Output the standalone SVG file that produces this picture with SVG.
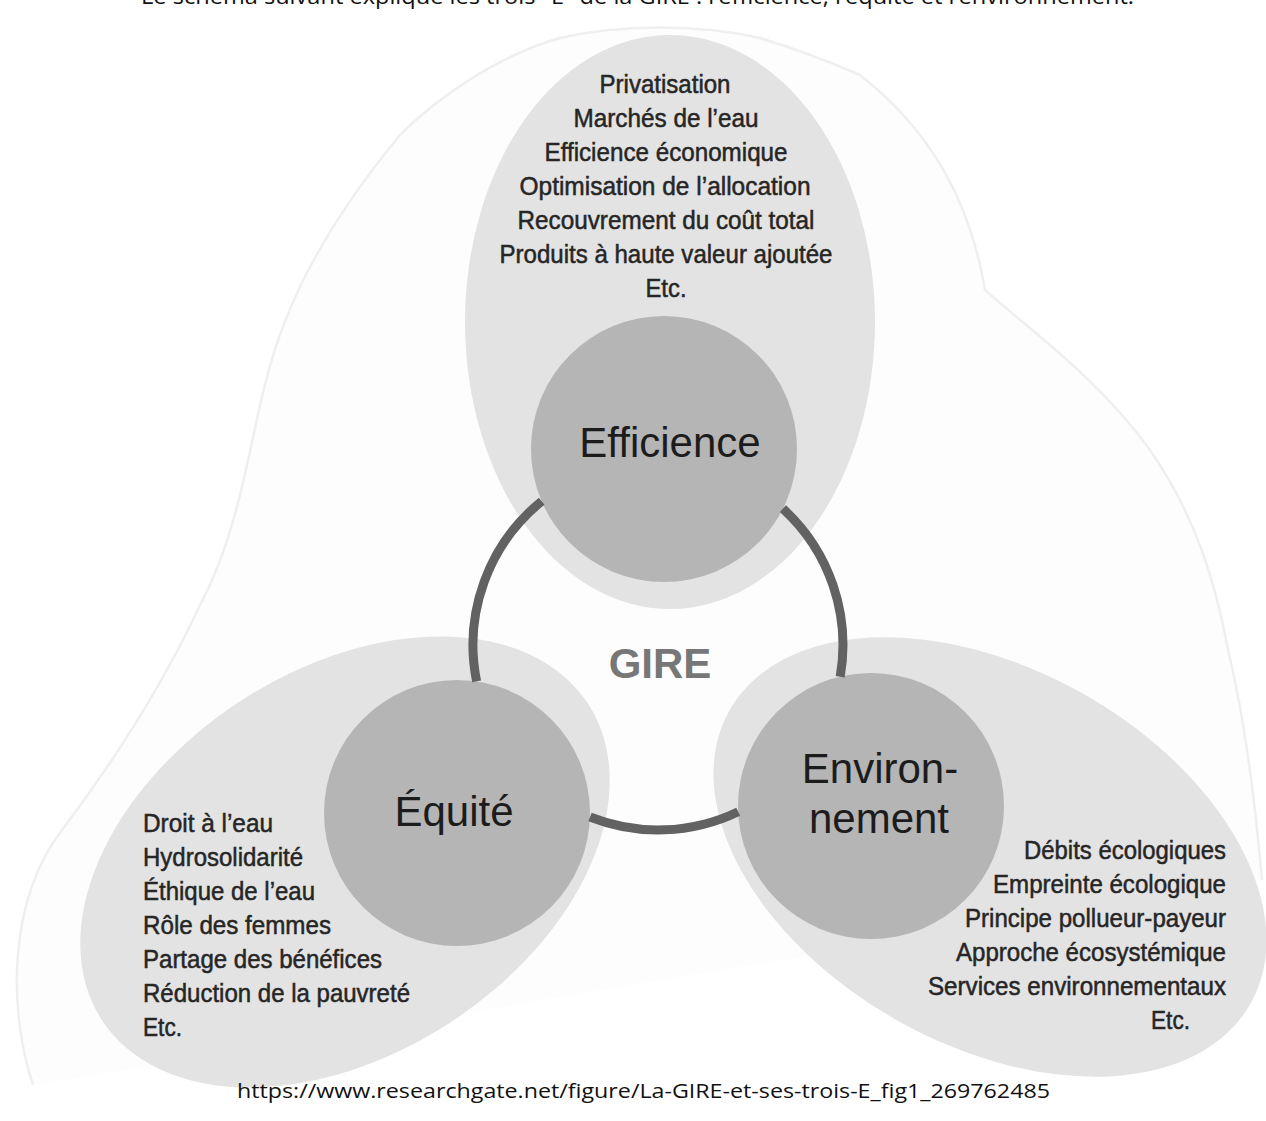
<svg xmlns="http://www.w3.org/2000/svg" width="1266" height="1121" viewBox="0 0 1266 1121">
<style>
.bg{fill:#ffffff}
.blob{fill:#fdfdfd;stroke:#efefef;stroke-width:2.5}
.halo{fill:#e3e3e3}
.core{fill:#b5b5b5}
.ring{fill:none;stroke:#626262;stroke-width:9;stroke-linecap:butt}
.lbl{font-family:'Liberation Sans',Arial,sans-serif;font-size:42px;fill:#1c1c1c;text-anchor:middle}
.gire{font-family:'Liberation Sans',Arial,sans-serif;font-size:42px;font-weight:bold;fill:#777777;text-anchor:middle}
.lst{font-family:'Liberation Sans Narrow','Liberation Sans',Arial,sans-serif;font-size:25px;fill:#262626;stroke:#262626;stroke-width:0.5}
.mid{text-anchor:middle}
.end{text-anchor:end}
.cap{font-family:'Open Sans','Liberation Sans',Arial,sans-serif;fill:#111111}
</style>
<rect class="bg" x="0" y="0" width="1266" height="1121"/>
<text class="cap" x="141" y="4" font-size="21" textLength="993" lengthAdjust="spacingAndGlyphs">Le schéma suivant explique les trois "E" de la GIRE : l’efficience, l’équité et l’environnement.</text>
<path class="blob" d="M 33,1085 C 8,1010 8,900 62,830 C 115,760 165,680 200,605 C 240,530 250,440 265,385 C 285,300 330,220 400,135 C 440,95 500,55 560,38 C 620,24 700,24 760,38 C 800,50 830,62 860,75 C 930,130 970,200 985,290 C 1030,330 1100,380 1150,450 C 1195,515 1215,580 1228,650 C 1245,720 1255,800 1262,880"/>
<g id="node-efficience">
<ellipse class="halo" cx="670" cy="322" rx="205" ry="287"/>
<circle class="core" cx="664" cy="449" r="133"/>
<text class="lbl" x="670" y="457">Efficience</text>
<text class="lst mid" x="665" y="93" textLength="131" lengthAdjust="spacingAndGlyphs">Privatisation</text>
<text class="lst mid" x="666" y="127" textLength="185" lengthAdjust="spacingAndGlyphs">Marchés de l’eau</text>
<text class="lst mid" x="666" y="161" textLength="243" lengthAdjust="spacingAndGlyphs">Efficience économique</text>
<text class="lst mid" x="665" y="195" textLength="291" lengthAdjust="spacingAndGlyphs">Optimisation de l’allocation</text>
<text class="lst mid" x="666" y="229" textLength="297" lengthAdjust="spacingAndGlyphs">Recouvrement du coût total</text>
<text class="lst mid" x="666" y="263" textLength="333" lengthAdjust="spacingAndGlyphs">Produits à haute valeur ajoutée</text>
<text class="lst mid" x="666" y="297" textLength="41" lengthAdjust="spacingAndGlyphs">Etc.</text>
</g>
<g id="node-equite">
<ellipse class="halo" cx="345" cy="862" rx="290" ry="192" transform="rotate(-33 345 862)"/>
<circle class="core" cx="457" cy="813" r="133"/>
<text class="lbl" x="454" y="826">Équité</text>
<text class="lst" x="143" y="832" textLength="130" lengthAdjust="spacingAndGlyphs">Droit à l’eau</text>
<text class="lst" x="143" y="866" textLength="160" lengthAdjust="spacingAndGlyphs">Hydrosolidarité</text>
<text class="lst" x="143" y="900" textLength="172" lengthAdjust="spacingAndGlyphs">Éthique de l’eau</text>
<text class="lst" x="143" y="934" textLength="188" lengthAdjust="spacingAndGlyphs">Rôle des femmes</text>
<text class="lst" x="143" y="968" textLength="239" lengthAdjust="spacingAndGlyphs">Partage des bénéfices</text>
<text class="lst" x="143" y="1002" textLength="267" lengthAdjust="spacingAndGlyphs">Réduction de la pauvreté</text>
<text class="lst" x="143" y="1036" textLength="39" lengthAdjust="spacingAndGlyphs">Etc.</text>
</g>
<g id="node-environnement">
<ellipse class="halo" cx="990" cy="857" rx="299" ry="188" transform="rotate(29.3 990 857)"/>
<circle class="core" cx="871" cy="806" r="133"/>
<text class="lbl" x="880" y="783">Environ-</text>
<text class="lbl" x="879" y="833">nement</text>
<text class="lst end" x="1226" y="859" textLength="202" lengthAdjust="spacingAndGlyphs">Débits écologiques</text>
<text class="lst end" x="1226" y="893" textLength="233" lengthAdjust="spacingAndGlyphs">Empreinte écologique</text>
<text class="lst end" x="1226" y="927" textLength="261" lengthAdjust="spacingAndGlyphs">Principe pollueur-payeur</text>
<text class="lst end" x="1226" y="961" textLength="270" lengthAdjust="spacingAndGlyphs">Approche écosystémique</text>
<text class="lst end" x="1226" y="995" textLength="298" lengthAdjust="spacingAndGlyphs">Services environnementaux</text>
<text class="lst end" x="1190" y="1029" textLength="39" lengthAdjust="spacingAndGlyphs">Etc.</text>
</g>
<g id="connectors">
<path class="ring" d="M 541.7,501.2 A 185 185 0 0 0 476.6,681.4"/>
<path class="ring" d="M 590,817 A 185 185 0 0 0 738.2,811.7"/>
<path class="ring" d="M 840.2,676.7 A 185 185 0 0 0 782.9,508.6"/>
</g>
<g id="node-gire">
<text class="gire" x="660" y="678">GIRE</text>
</g>
<text class="cap" x="237" y="1098" font-size="20" textLength="813" lengthAdjust="spacingAndGlyphs">https://www.researchgate.net/figure/La-GIRE-et-ses-trois-E_fig1_269762485</text>
</svg>
